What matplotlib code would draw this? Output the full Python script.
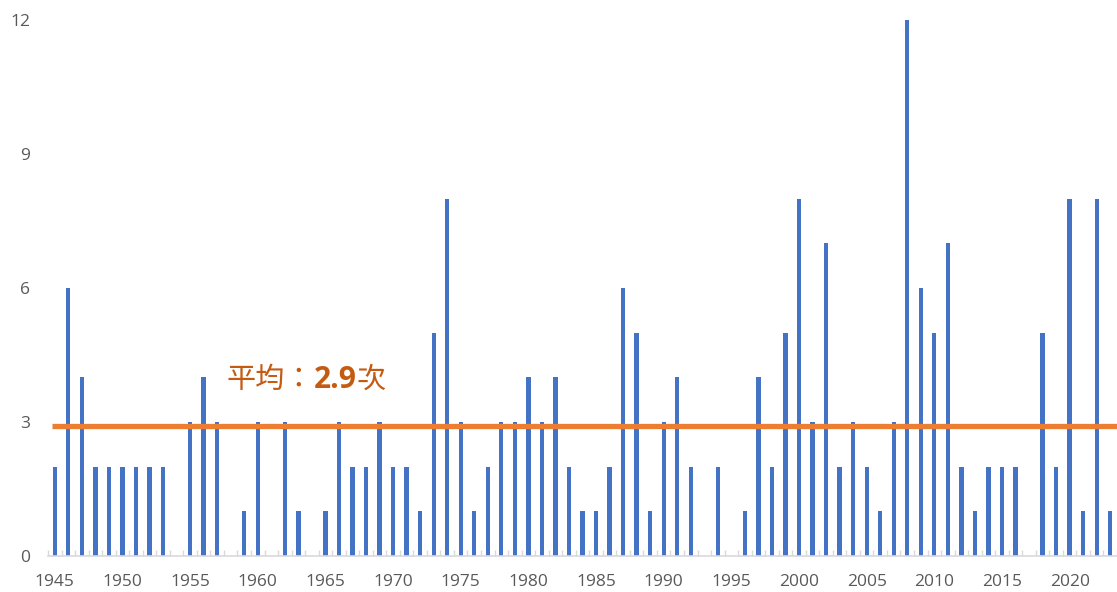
import matplotlib.pyplot as plt
import numpy as np

plt.rcParams['font.family'] = ['Open Sans', 'Noto Sans CJK SC', 'DejaVu Sans']

years = list(range(1945, 2024))
counts = [
    2, 6, 4, 2, 2, 2, 2, 2, 2, 0,   # 1945-1954
    3, 4, 3, 0, 1, 3, 0, 3, 1, 0,   # 1955-1964
    1, 3, 2, 2, 3, 2, 2, 1, 5, 8,   # 1965-1974
    3, 1, 2, 3, 3, 4, 3, 4, 2, 1,   # 1975-1984
    1, 2, 6, 5, 1, 3, 4, 2, 0, 2,   # 1985-1994
    0, 1, 4, 2, 5, 8, 3, 7, 2, 3,   # 1995-2004
    2, 1, 3, 12, 6, 5, 7, 2, 1, 2,  # 2005-2014
    2, 2, 0, 5, 2, 8, 1, 8, 1,      # 2015-2023
]
avg = 2.9
avg_label = ['平均：', '2.9', '次']

bar_color = '#4472C4'
line_color = '#ED7D31'
text_color = '#C55A11'
grey = '#595959'

fig = plt.figure(figsize=(11.17, 5.92), dpi=100)
ax = fig.add_axes([0.043, 0.0608, 0.957, 0.9054])

ax.bar(years, counts, width=0.32, color=bar_color, zorder=2)
ax.hlines(avg, years[0] - 0.2, years[-1] + 1, color=line_color, lw=3.8, zorder=3)

ax.set_xlim(1944.55, 2022.98)
ax.set_ylim(0, 12)

for s in ['top', 'right', 'left']:
    ax.spines[s].set_visible(False)
ax.spines['bottom'].set_color('#D9D9D9')
ax.spines['bottom'].set_linewidth(1.2)

ax.set_yticks([0, 3, 6, 9, 12])
ax.tick_params(axis='y', length=0, pad=13, labelsize=12.5, labelcolor=grey)
ax.set_xticks(range(1945, 2024, 5))
ax.set_xticks(np.arange(1944.5, 2023.6, 1), minor=True)
ax.tick_params(axis='x', which='major', length=0, pad=13, labelsize=12.5, labelcolor=grey)
ax.tick_params(axis='x', which='minor', direction='in', length=4, width=1, color='#D9D9D9')

# average label, number part in bold
cjk = ['Noto Sans CJK TC']
t1 = ax.text(1957.7, 3.94, avg_label[0], color=text_color, fontsize=21,
             va='center', ha='left', family=cjk)
t2 = ax.annotate(avg_label[1], xy=(1, 0.5), xycoords=t1, va='center', ha='left',
                 color=text_color, fontsize=21.5, fontweight='bold')
ax.annotate(avg_label[2], xy=(1, 0.5), xycoords=t2, va='center', ha='left',
            color=text_color, fontsize=21, family=cjk)

fig.savefig('out.png', dpi=100)
